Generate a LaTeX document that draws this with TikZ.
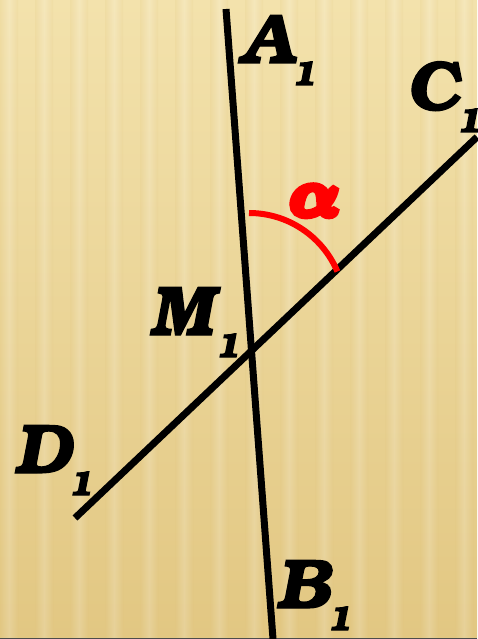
\documentclass[tikz,border=0pt]{standalone}
\usepackage[T1]{fontenc}
\usepackage{bookman}
\usepackage{amsmath,amssymb}
\usepackage{graphicx}
\usepackage{xcolor}
\usepackage{tikz}
\usetikzlibrary{arrows.meta}
\definecolor{bgtop}{RGB}{243,226,172}
\definecolor{bgbot}{RGB}{226,199,130}
\definecolor{arcred}{RGB}{255,0,0}
\newcommand{\heavy}[1]{\special{pdf:literal direct 2 Tr 1.2 w}#1\special{pdf:literal direct 0 Tr}}
\newcommand{\ptname}[1]{\heavy{\scalebox{1.05}[1]{\textbf{\textit{#1}}}\kern-5pt\raisebox{-22pt}{\scalebox{1.1}[1]{\fontsize{34}{34}\selectfont\textbf{\textit{1}}}}}}
\tikzset{ptlabel/.style={anchor=base west,inner sep=0pt,font=\fontsize{70}{70}\selectfont}}
\begin{document}
\begin{tikzpicture}[x=1pt,y=-1pt]
\useasboundingbox(0,0)rectangle(477,639);
\shade[top color=bgtop,bottom color=bgbot](0,0)rectangle(477,639);
\foreach \x in {0,35,...,470}
  \shade[left color=bgbot,right color=bgbot,middle color=white,opacity=.18](\x,0)rectangle(\x+18,639);
\draw[black!70,line width=1.5pt](0,638.5)--(477,638.5);
% the two lines
\coordinate(A)at(226,9);
\coordinate(B)at(273,639);
\coordinate(C)at(477,137);
\coordinate(D)at(75,518);
\draw[line width=7pt](A)--(B);
\draw[line width=7pt](C)--(D);
\draw[arcred,line width=6pt](249,213)arc[start angle=-90,end angle=-23,radius=96];
\node[ptlabel](a1)at(240,63){\ptname{A}};
\node[ptlabel](c1)at(406,110){\ptname{C}};
\node[ptlabel](m1)at(149,335){\ptname{M}};
\node[ptlabel](d1)at(14,473){\ptname{D}};
\node[ptlabel](b1)at(276,608){\ptname{B}};
\node[anchor=base west,inner sep=0pt,text=arcred](al)at(290,215){\heavy{\scalebox{6.4}{$\boldsymbol{\alpha}$}}};
\end{tikzpicture}
\end{document}
